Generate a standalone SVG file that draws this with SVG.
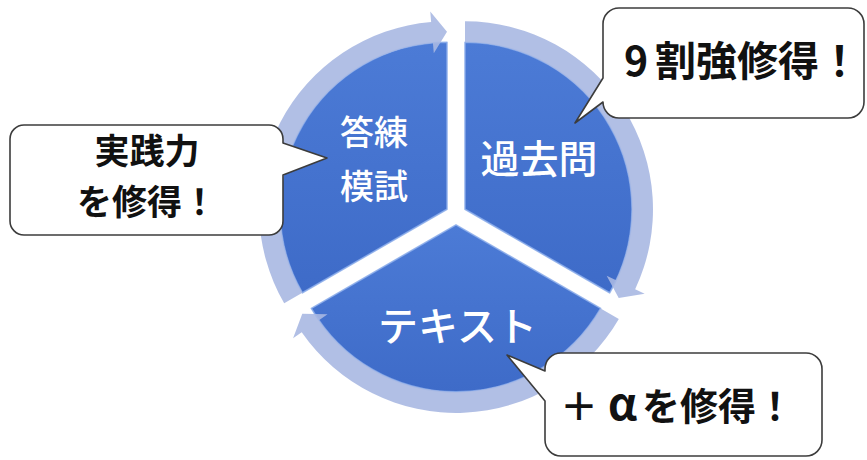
<svg xmlns="http://www.w3.org/2000/svg" width="867" height="460" viewBox="0 0 867 460">
<defs>
<linearGradient id="segGrad" x1="0" y1="0" x2="0" y2="1">
<stop offset="0" stop-color="#4c7bd6"/>
<stop offset="1" stop-color="#3e6bc8"/>
</linearGradient>
</defs>
<style>
.seg{fill:url(#segGrad);stroke:#8aabea;stroke-width:1.6;stroke-opacity:0.85;stroke-linejoin:round}
.arc{fill:#a8b8e2;fill-opacity:0.9;stroke:none}
.lbl{fill:#ffffff;font-family:"Noto Sans CJK JP","Noto Sans",sans-serif;font-weight:500;text-anchor:middle}
.call{fill:#ffffff;stroke:#3c3c3c;stroke-width:1.6;stroke-linejoin:round}
.ctext{fill:#111111;font-family:"Noto Sans CJK JP","Noto Sans",sans-serif;font-weight:bold;text-anchor:middle}
</style>
<rect width="867" height="460" fill="#ffffff"/>

<g id="seg-toren">
<path class="seg" d="M447,209.3 L302.37,292.8 A167,167 0 0 1 447,42.3 Z"/>
<text class="lbl" x="374" y="144.5" font-size="34">答練</text>
<text class="lbl" x="374" y="198.5" font-size="34">模試</text>
</g>
<g id="seg-kakomon">
<path class="seg" d="M465,209.3 L465,42.3 A167,167 0 0 1 609.63,292.8 Z"/>
<text class="lbl" x="539" y="173" font-size="39">過去問</text>
</g>
<g id="seg-text">
<path class="seg" d="M456,224.9 L600.63,308.4 A167,167 0 0 1 311.37,308.4 Z"/>
<text class="lbl" x="457.5" y="341" font-size="40">テキスト</text>
</g>

<g id="connectors">
<path class="arc" d="M284.19,303.3 A188,188 0 0 1 431.14,21.97 L430.25,11.51 L447,31.8 L433.8,53.36 L432.91,42.9 A167,167 0 0 0 302.37,292.8 Z"/>
<path class="arc" d="M465,21.3 A188,188 0 0 1 635.16,289.23 L644.67,293.69 L618.72,298.05 L606.65,275.84 L616.16,280.3 A167,167 0 0 0 465,42.3 Z"/>
<path class="arc" d="M618.81,318.9 A188,188 0 0 1 301.7,332.3 L293.08,338.3 L302.28,313.65 L327.55,314.31 L318.94,320.31 A167,167 0 0 0 600.63,308.4 Z"/>
</g>

<g id="callout-jissen">
<path class="call" d="M24,125 H269 A14,14 0 0 1 283,139 V143 L327,158 L283,175 V221 A14,14 0 0 1 269,235 H24 A14,14 0 0 1 10,221 V139 A14,14 0 0 1 24,125 Z"/>
<text class="ctext" x="147" y="164" font-size="35">実践力</text>
<text class="ctext" x="147" y="215" font-size="35">を修得！</text>
</g>
<g id="callout-9wari">
<path class="call" d="M619,8 H848 A16,16 0 0 1 864,24 V102 A16,16 0 0 1 848,118 H619 A16,16 0 0 1 603,102 L575,123 L603,78 V24 A16,16 0 0 1 619,8 Z"/>
<text class="ctext" x="742" y="75.5" font-size="41">9<tspan dx="7">割強修得！</tspan></text>
</g>
<g id="callout-alpha">
<path class="call" d="M561,353 H806 A16,16 0 0 1 822,369 V440 A16,16 0 0 1 806,456 H561 A16,16 0 0 1 545,440 V401 L507,355 L545,371 V369 A16,16 0 0 1 561,353 Z"/>
<text class="ctext" x="677" y="420" font-size="38">＋<tspan dx="10" font-size="44">α</tspan><tspan dx="5">を修得！</tspan></text>
</g>
</svg>
